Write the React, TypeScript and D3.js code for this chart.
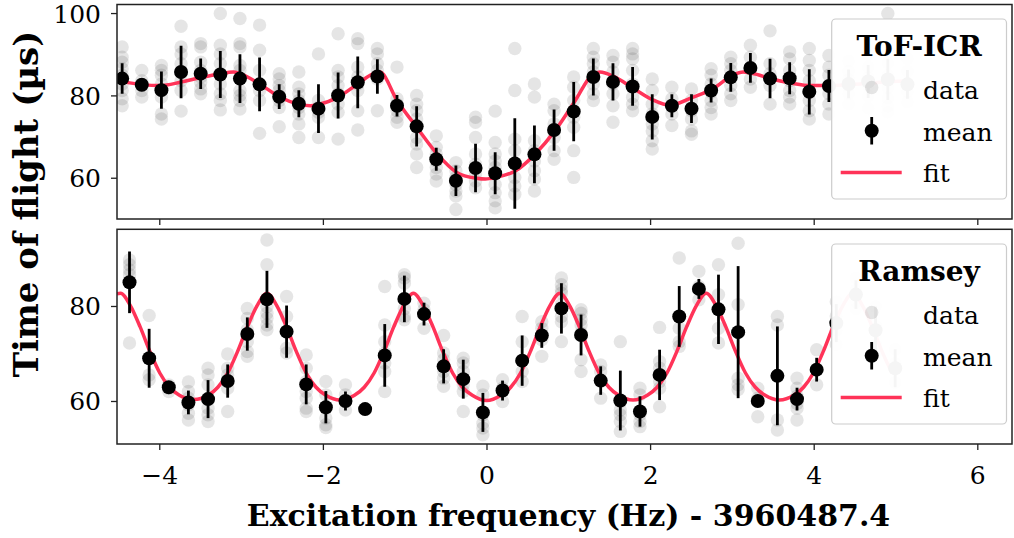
import React from 'react';
import * as d3 from 'd3';

// ---------- ToF-ICR (top panel) ----------
const tofX = [-4.46, -4.22, -3.98, -3.74, -3.50, -3.26, -3.02, -2.78, -2.54, -2.30, -2.06, -1.82, -1.58, -1.34, -1.10, -0.86, -0.62, -0.38, -0.14, 0.10, 0.34, 0.58, 0.82, 1.06, 1.30, 1.54, 1.78, 2.02, 2.26, 2.50, 2.74, 2.98, 3.22, 3.46, 3.70, 3.94, 4.18, 4.42, 4.66, 4.90, 5.14];
const tofMean = [84.2, 82.7, 81.4, 85.8, 85.4, 85.2, 84.2, 82.8, 79.8, 78.1, 76.9, 80.1, 83.3, 84.7, 77.6, 72.6, 64.6, 59.4, 62.5, 61.2, 63.6, 65.8, 71.7, 76.2, 84.6, 83.4, 82.3, 74.9, 77.6, 76.9, 81.3, 84.5, 86.8, 84.2, 84.3, 81.0, 82.4, 82.9, 83.5, 84.0, 82.8];
const tofErr = [3.7, 1.2, 4.5, 6.4, 3.7, 5.7, 5.9, 6.5, 3.0, 3.3, 5.9, 5.6, 6.3, 4.2, 2.6, 4.9, 2.8, 3.7, 5.9, 5.1, 11.0, 7.0, 5.0, 7.2, 4.5, 4.5, 4.7, 5.5, 2.8, 3.5, 2.9, 3.5, 3.6, 4.8, 3.9, 5.5, 3.9, 3.5, 4.0, 5.0, 3.5];
const tofData = [
  [91.9, 89.4, 88.2, 86.6, 85.0, 82.9, 81.3, 79.3, 77.6],
  [86.2, 83.7, 82.5, 81.3, 79.7],
  [87.4, 86.2, 85.0, 82.9, 81.3, 79.7, 75.6, 74.4],
  [96.9, 91.9, 90.2, 87.8, 85.8, 83.7, 81.3, 76.3],
  [92.7, 91.9, 88.2, 86.2, 84.6, 83.3, 81.7, 80.5],
  [100.0, 92.3, 90.2, 87.8, 85.4, 82.9, 80.5, 78.9, 76.6],
  [98.8, 92.7, 91.9, 87.4, 86.2, 84.1, 81.3, 80.1, 78.9, 76.8],
  [97.2, 91.1, 86.2, 82.9, 81.3, 78.9, 70.9],
  [85.4, 84.1, 82.5, 81.3, 78.9, 77.2, 72.5],
  [85.8, 82.1, 80.5, 78.9, 77.2, 75.6, 73.2, 69.9],
  [90.2, 78.9, 77.2, 76.0, 74.8, 69.9],
  [95.1, 86.2, 84.6, 82.5, 80.5, 78.0, 76.0, 69.5],
  [93.9, 92.7, 87.0, 84.6, 82.9, 81.3, 76.4, 71.7],
  [91.5, 90.2, 87.8, 86.2, 84.1, 76.4],
  [87.0, 79.3, 78.0, 76.4, 74.8, 73.6],
  [80.1, 78.0, 76.4, 74.4, 72.4, 69.9, 68.3, 65.9, 62.6],
  [70.3, 67.5, 65.9, 64.2, 62.6, 61.0, 59.3],
  [63.8, 61.8, 60.2, 58.5, 56.9, 55.7, 52.4],
  [74.8, 73.6, 69.9, 65.9, 63.4, 61.0, 59.3, 57.7],
  [76.3, 68.7, 65.9, 64.2, 62.6, 61.0, 58.5, 56.5, 54.5, 52.8],
  [91.5, 81.3, 69.5, 66.7, 63.6, 60.2, 58.1, 56.1],
  [82.9, 79.7, 69.1, 66.7, 64.2, 61.8, 59.8, 56.9],
  [78.0, 76.4, 73.2, 69.9, 66.7, 64.6],
  [84.6, 82.1, 78.9, 74.8, 72.4, 66.7, 60.2],
  [91.5, 89.4, 87.8, 85.8, 82.9, 80.5, 78.9],
  [89.8, 88.2, 85.8, 82.9, 80.5, 77.6, 73.6],
  [91.5, 90.2, 89.0, 86.2, 82.9, 79.7, 78.0, 76.4],
  [84.1, 81.3, 78.0, 75.6, 73.2, 71.5, 69.1, 67.1],
  [82.1, 79.3, 77.6, 75.6, 72.8],
  [81.7, 78.9, 76.4, 74.4, 71.5, 70.7],
  [86.6, 85.0, 82.9, 80.9, 78.9, 77.2, 75.6],
  [89.4, 87.8, 86.2, 82.5, 80.5, 78.9],
  [92.3, 89.4, 86.6, 84.1, 82.1],
  [95.8, 87.8, 85.4, 82.5, 78.0],
  [90.7, 89.0, 86.2, 83.7, 81.3, 79.7, 78.0],
  [91.5, 88.6, 86.2, 83.7, 78.9, 76.4, 74.4],
  [89.8, 87.0, 85.0, 80.5, 78.0, 75.6],
  [88.5, 86.0, 84.0, 82.5, 80.5, 78.0],
  [90.0, 87.0, 84.5, 82.5, 80.0, 77.0],
  [100.0, 88.0, 85.0, 82.0, 79.5, 77.5, 76.0],
  [89.0, 86.0, 83.0, 81.0, 78.5],
];
const tofFitX = [-4.523, -4.47, -4.23, -3.99, -3.75, -3.51, -3.26, -3.10, -3.02, -2.78, -2.54, -2.30, -2.16, -2.06, -1.82, -1.58, -1.39, -1.31, -1.10, -0.86, -0.61, -0.37, -0.13, -0.02, 0.11, 0.35, 0.59, 0.83, 1.08, 1.28, 1.38, 1.56, 1.80, 2.04, 2.22, 2.28, 2.52, 2.76, 3.00, 3.13, 3.24, 3.48, 3.72, 3.96, 4.19, 4.50, 4.80, 5.14];
const tofFitY = [83.9, 83.6, 82.8, 82.5, 83.3, 84.4, 85.4, 85.8, 85.4, 82.9, 79.8, 78.0, 77.6, 77.9, 79.7, 82.9, 85.4, 85.8, 78.9, 72.4, 65.9, 61.4, 60.0, 59.8, 60.2, 61.8, 65.9, 71.5, 78.9, 85.0, 85.8, 84.6, 81.7, 78.9, 77.8, 77.9, 79.7, 81.7, 85.0, 85.8, 85.5, 84.1, 83.1, 82.5, 82.5, 82.8, 83.3, 83.6];

// ---------- Ramsey (bottom panel) ----------
const ramX = [-4.37, -4.13, -3.89, -3.65, -3.41, -3.17, -2.93, -2.69, -2.45, -2.21, -1.97, -1.73, -1.49, -1.25, -1.01, -0.77, -0.53, -0.29, -0.05, 0.19, 0.43, 0.67, 0.91, 1.15, 1.39, 1.63, 1.87, 2.11, 2.35, 2.59, 2.83, 3.07, 3.31, 3.55, 3.79, 4.03, 4.27, 4.51, 4.75, 4.99];
const ramMean = [85.1, 69.1, 63.0, 59.8, 60.5, 64.3, 74.2, 81.5, 74.7, 63.6, 58.8, 60.1, 58.4, 69.7, 81.6, 78.4, 67.4, 64.7, 57.7, 62.3, 68.6, 73.9, 79.6, 74.0, 64.4, 60.2, 57.9, 65.6, 77.9, 83.7, 79.4, 74.6, 60.1, 65.4, 60.5, 66.7, 76.5, 82.5, 75.0, 67.0];
const ramErr = [6.5, 6.2, 0.8, 2.5, 4.0, 3.5, 3.5, 6.0, 5.5, 4.2, 3.4, 2.0, 0.0, 6.6, 4.9, 2.4, 3.6, 4.1, 4.1, 2.1, 5.3, 2.6, 5.3, 4.3, 3.0, 6.3, 3.2, 5.3, 6.4, 2.1, 7.3, 13.9, 0.8, 10.4, 2.4, 2.5, 4.0, 3.0, 5.0, 4.0];
const ramData = [
  [89.8, 88.8, 87.7, 86.7, 72.3],
  [78.1, 65.6, 64.6],
  [63.5, 62.8, 62.1],
  [64.1, 62.1, 60.7, 59.3, 57.5, 56.1],
  [67.0, 65.6, 63.5, 60.7, 58.6, 57.2, 55.8],
  [70.0, 67.0, 65.6, 62.8, 57.9],
  [79.6, 77.5, 75.1, 72.6, 70.5, 69.5],
  [94.0, 88.8, 80.0, 78.6, 77.5, 76.1, 75.1],
  [82.1, 77.9, 74.7, 71.2, 70.2],
  [69.8, 67.0, 64.2, 62.1, 60.7, 58.6, 57.9],
  [64.2, 61.4, 58.6, 56.5, 55.1, 54.5],
  [63.5, 61.4, 60.0, 58.2],
  [58.4],
  [84.2, 76.1, 72.6, 70.2, 68.1, 66.3, 62.1],
  [86.7, 86.0, 84.9, 79.6, 77.9, 77.2],
  [80.7, 79.3, 75.4],
  [73.9, 70.2, 68.8, 66.3, 64.9, 63.2],
  [69.1, 68.1, 66.3, 63.5, 62.1, 57.9],
  [63.2, 61.4, 57.2, 55.4, 54.4, 53.0],
  [64.6, 62.8, 60.0],
  [77.9, 72.6, 66.3, 64.2],
  [76.8, 75.4, 73.0, 69.5],
  [86.0, 84.6, 83.5, 82.8, 80.4, 77.9, 76.8, 72.6],
  [79.3, 78.6, 77.2, 76.1, 74.4, 68.8, 66.3],
  [67.7, 66.3, 64.2, 60.7],
  [72.6, 60.0, 58.2, 57.2, 55.8, 53.7],
  [62.8, 61.4, 57.2, 55.8, 54.7],
  [75.6, 68.4, 67.0, 64.2, 62.8, 58.9],
  [90.2, 75.4, 72.6, 71.6],
  [87.4, 84.2, 81.4],
  [88.8, 82.5, 79.3, 75.4, 72.3],
  [93.3, 80.4, 64.9, 63.5, 62.5],
  [62.8, 60.7, 56.8],
  [77.9, 76.1, 56.1, 54.0],
  [64.9, 62.8, 61.1, 59.6, 58.6, 56.1],
  [70.9, 63.5],
  [81.0, 78.0, 75.0, 72.0],
  [86.0, 83.5, 81.0, 79.5],
  [80.0, 76.0, 72.0, 70.0],
  [71.0, 68.0, 64.0],
];
const ramFitX = [-4.523, -4.48, -4.36, -4.24, -4.12, -4.00, -3.88, -3.76, -3.585, -3.41, -3.29, -3.17, -3.05, -2.93, -2.81, -2.69, -2.57, -2.45, -2.33, -2.21, -2.09, -1.97, -1.795, -1.62, -1.50, -1.38, -1.26, -1.14, -1.02, -0.90, -0.78, -0.66, -0.54, -0.42, -0.30, -0.18, -0.005, 0.17, 0.29, 0.41, 0.53, 0.65, 0.77, 0.89, 1.01, 1.13, 1.25, 1.37, 1.49, 1.61, 1.785, 1.96, 2.08, 2.20, 2.32, 2.44, 2.56, 2.68, 2.80, 2.92, 3.04, 3.16, 3.28, 3.40, 3.575, 3.75, 3.87, 3.99, 4.11, 4.23, 4.35, 4.47, 4.59, 4.71, 4.83, 4.95];
const ramFitY = [82.7, 82.8, 80.2, 75.7, 70.5, 66.0, 63.0, 61.3, 60.4, 61.3, 63.0, 66.0, 70.5, 75.7, 80.2, 82.8, 80.2, 75.7, 70.5, 66.0, 63.0, 61.3, 60.3, 61.3, 63.0, 66.0, 70.5, 75.7, 80.2, 82.8, 80.2, 75.7, 70.5, 66.0, 63.0, 61.3, 60.2, 61.3, 63.0, 66.0, 70.5, 75.7, 80.2, 82.8, 80.2, 75.7, 70.5, 66.0, 63.0, 61.3, 60.3, 61.3, 63.0, 66.0, 70.5, 75.7, 80.2, 82.8, 80.2, 75.7, 70.5, 66.0, 63.0, 61.3, 60.3, 61.3, 63.0, 66.0, 70.5, 75.7, 80.2, 82.8, 80.2, 75.7, 70.5, 66.0];

// ---------- axes ----------
const xTicks = [-4, -2, 0, 2, 4, 6];
const tofYTicks = [60, 80, 100];
const ramYTicks = [60, 80];
const legendItems = ['data', 'mean', 'fit'];

const FONT = 'DejaVu Serif';
const FIT_COLOR = '#ff3358';
const L = 117, R = 1012;

const xScale = d3.scaleLinear().domain([-4.523, 6.418]).range([L, R]);
const fmt = (d: number) => (d < 0 ? '\u2212' + Math.abs(d) : String(d));

type PanelProps = {
  id: string;
  top: number;
  bottom: number;
  domain: [number, number];
  yTicks: number[];
  xs: number[];
  data: number[][];
  mean: number[];
  err: number[];
  fitX: number[];
  fitY: number[];
  title: string;
  legendTop: number;
  xLabels: boolean;
};

function Panel(p: PanelProps) {
  const y = d3.scaleLinear().domain(p.domain).range([p.bottom, p.top]);
  const fitPts = p.fitX.map((x, i) => [x, p.fitY[i]] as [number, number]);
  const line = d3
    .line<[number, number]>()
    .x((d) => xScale(d[0]))
    .y((d) => y(d[1]))
    .curve(d3.curveMonotoneX);
  const lx0 = 831.7, lx1 = 1006.5, lt = p.legendTop;
  const mx = 871.7;
  return (
    <g>
      <defs>
        <clipPath id={p.id}>
          <rect x={L} y={p.top} width={R - L} height={p.bottom - p.top} />
        </clipPath>
      </defs>
      <g clipPath={`url(#${p.id})`}>
        {p.data.map((col, i) =>
          col.map((v, j) => (
            <circle key={`${i}-${j}`} cx={xScale(p.xs[i])} cy={y(v)} r={6.7} fill="#000" fillOpacity={0.1} />
          ))
        )}
        <path d={line(fitPts) || ''} fill="none" stroke={FIT_COLOR} strokeWidth={3.5} />
        {p.mean.map((m, i) => (
          <g key={i}>
            {p.err[i] > 0 && (
              <line x1={xScale(p.xs[i])} x2={xScale(p.xs[i])} y1={y(m - p.err[i])} y2={y(m + p.err[i])} stroke="#000" strokeWidth={2.8} />
            )}
            <circle cx={xScale(p.xs[i])} cy={y(m)} r={7} fill="#000" />
          </g>
        ))}
      </g>
      <rect x={L} y={p.top} width={R - L} height={p.bottom - p.top} fill="none" stroke="#222" strokeWidth={1.5} />
      {p.yTicks.map((t) => (
        <g key={t}>
          <line x1={L - 6} x2={L} y1={y(t)} y2={y(t)} stroke="#222" strokeWidth={1.3} />
          <text x={L - 16} y={y(t)} dy="0.36em" textAnchor="end" fontFamily={FONT} fontSize={25} fill="#000">
            {t}
          </text>
        </g>
      ))}
      {xTicks.map((t) => (
        <g key={t}>
          <line x1={xScale(t)} x2={xScale(t)} y1={p.bottom} y2={p.bottom + 6} stroke="#222" strokeWidth={1.3} />
          {p.xLabels && (
            <text x={xScale(t)} y={p.bottom + 40} textAnchor="middle" fontFamily={FONT} fontSize={25} fill="#000">
              {fmt(t)}
            </text>
          )}
        </g>
      ))}
      {/* legend */}
      <rect x={lx0} y={lt} width={lx1 - lx0} height={180} rx={4} fill="#fff" fillOpacity={0.96} stroke="#cccccc" strokeWidth={1.2} />
      <text x={(lx0 + lx1) / 2} y={lt + 37} textAnchor="middle" fontFamily={FONT} fontWeight="bold" fontSize={28} fill="#000">
        {p.title}
      </text>
      <circle cx={mx} cy={lt + 68.5} r={6.7} fill="#000" fillOpacity={0.1} />
      <line x1={mx} x2={mx} y1={lt + 98} y2={lt + 125.5} stroke="#000" strokeWidth={2.8} />
      <circle cx={mx} cy={lt + 111.7} r={7} fill="#000" />
      <line x1={840.7} x2={901.7} y1={lt + 153.5} y2={lt + 153.5} stroke={FIT_COLOR} strokeWidth={3.5} />
      {legendItems.map((s, i) => (
        <text key={s} x={923} y={lt + 80 + i * 41.7} fontFamily={FONT} fontSize={25} fill="#000">
          {s}
        </text>
      ))}
    </g>
  );
}

export default function App() {
  return (
    <svg width={1014} height={538} style={{ position: 'absolute', left: 0, top: 0, background: '#fff' }}>
      <rect x={0} y={0} width={1014} height={538} fill="#fff" />
      <Panel
        id="clipTop"
        top={4.5}
        bottom={219}
        domain={[50.1, 102.2]}
        yTicks={tofYTicks}
        xs={tofX}
        data={tofData}
        mean={tofMean}
        err={tofErr}
        fitX={tofFitX}
        fitY={tofFitY}
        title="ToF-ICR"
        legendTop={19}
        xLabels={false}
      />
      <Panel
        id="clipBot"
        top={229.3}
        bottom={444}
        domain={[51.05, 96.25]}
        yTicks={ramYTicks}
        xs={ramX}
        data={ramData}
        mean={ramMean}
        err={ramErr}
        fitX={ramFitX}
        fitY={ramFitY}
        title="Ramsey"
        legendTop={244}
        xLabels={true}
      />
      <text x={568.5} y={526} textAnchor="middle" fontFamily={FONT} fontWeight="bold" fontSize={30} fill="#000">
        Excitation frequency (Hz) - 3960487.4
      </text>
      <text transform="translate(38,204) rotate(-90)" textAnchor="middle" fontFamily={FONT} fontWeight="bold" fontSize={34} fill="#000">
        Time of flight (µs)
      </text>
    </svg>
  );
}
